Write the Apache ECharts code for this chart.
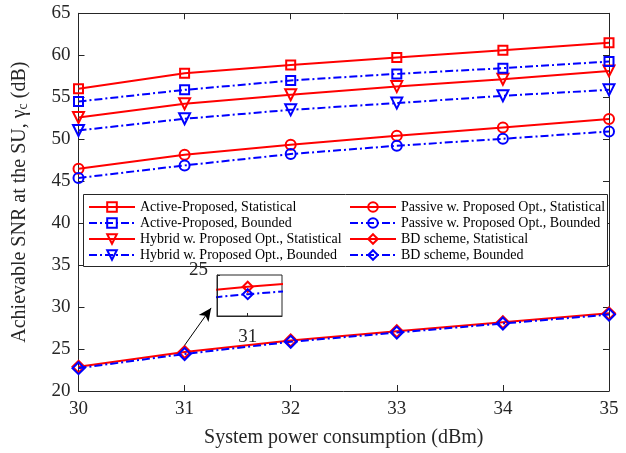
<!DOCTYPE html>
<html>
<head>
<meta charset="utf-8">
<script src="https://cdn.jsdelivr.net/npm/echarts@6/dist/echarts.min.js"></script>
<style>html,body{margin:0;padding:0;background:#fff;}#c{width:626px;height:453px;}</style>
</head>
<body>
<div id="c"></div>
<script>
// ---- data ----
const xValues = [30, 31, 32, 33, 34, 35];
const activeStat = [56.0, 57.87, 58.85, 59.72, 60.6, 61.5];
const activeBound = [54.49, 55.88, 56.99, 57.78, 58.46, 59.25];
const passiveStat = [46.49, 48.15, 49.34, 50.41, 51.4, 52.4];
const passiveBound = [45.38, 46.88, 48.23, 49.22, 50.05, 50.92];
const hybridStat = [52.59, 54.22, 55.29, 56.27, 57.15, 58.14];
const hybridBound = [51.04, 52.43, 53.5, 54.3, 55.17, 55.88];
const bdStat = [22.88, 24.64, 26.03, 27.13, 28.2, 29.25];
const bdBound = [22.72, 24.41, 25.86, 26.96, 28.04, 29.1];
const seriesNames = [
  'Active-Proposed, Statistical', 'Active-Proposed, Bounded',
  'Hybrid w. Proposed Opt., Statistical', 'Hybrid w. Proposed Opt., Bounded',
  'Passive w. Proposed Opt., Statistical', 'Passive w. Proposed Opt., Bounded',
  'BD scheme, Statistical', 'BD scheme, Bounded'
];
const xTicks = [30, 31, 32, 33, 34, 35];
const yTicks = [20, 25, 30, 35, 40, 45, 50, 55, 60, 65];
const insetXTick = [31];
const insetYTick = [25];
const arrowFrom = [31.0, 25.45];
const arrowTo = [31.25, 29.9];

// ---- styles ----
const FONT = '"Liberation Serif", "Times New Roman", serif';
const RED = '#FF0000', BLUE = '#0000FF', AX = '#262626';
const pair = a => a.map((v, i) => [xValues[i], v]);

function mk(name, data, color, solid, symbol, rot, size, extra) {
  return Object.assign({
    name: name, type: 'line', data: pair(data),
    symbol: symbol, symbolSize: size, symbolRotate: rot || 0,
    lineStyle: { color: color, width: 2, type: solid ? 'solid' : [8, 3, 2, 3] },
    itemStyle: { color: 'rgba(255,255,255,0)', borderColor: color, borderWidth: 2 },
    emphasis: { disabled: true }, animation: false, z: solid ? 3 : 4
  }, extra || {});
}

const series = [
  mk(seriesNames[0], activeStat, RED, true, 'rect', 0, 9),
  mk(seriesNames[1], activeBound, BLUE, false, 'rect', 0, 9),
  mk(seriesNames[2], hybridStat, RED, true, 'triangle', 180, 11),
  mk(seriesNames[3], hybridBound, BLUE, false, 'triangle', 180, 11),
  mk(seriesNames[4], passiveStat, RED, true, 'circle', 0, 10),
  mk(seriesNames[5], passiveBound, BLUE, false, 'circle', 0, 10),
  mk(seriesNames[6], bdStat, RED, true, 'diamond', 0, 12, {
    markLine: {
      silent: true, symbol: ['none', 'arrow'], symbolSize: [9, 13],
      lineStyle: { color: '#000', width: 1, type: 'solid' },
      label: { show: false },
      data: [[{ coord: arrowFrom }, { coord: arrowTo }]]
    }
  }),
  mk(seriesNames[7], bdBound, BLUE, false, 'diamond', 0, 12),
  mk('inset-stat', bdStat, RED, true, 'diamond', 0, 10, { xAxisIndex: 2, yAxisIndex: 2, clip: true, z: 20 }),
  mk('inset-bound', bdBound, BLUE, false, 'diamond', 0, 10, { xAxisIndex: 2, yAxisIndex: 2, clip: true, z: 21 })
];

const tickStyle = { inside: true, length: 6, lineStyle: { color: AX } };
const lineStyleAx = { lineStyle: { color: AX, width: 1 } };

const option = {
  backgroundColor: '#fff',
  animation: false,
  textStyle: { fontFamily: FONT },
  grid: [
    { left: 78.5, right: 17, top: 13.3, bottom: 61.5, show: false },
    { left: 217, top: 275, width: 65, height: 41, show: true, borderColor: AX, borderWidth: 1, backgroundColor: '#fff', z: 6 }
  ],
  xAxis: [
    { type: 'value', gridIndex: 0, min: 30, max: 35, interval: 1, position: 'bottom',
      axisLine: lineStyleAx, axisTick: tickStyle, splitLine: { show: false },
      axisLabel: { customValues: xTicks, color: AX, fontFamily: FONT, fontSize: 19, margin: 9 },
      name: 'System power consumption (dBm)', nameLocation: 'middle', nameGap: 37,
      nameTextStyle: { color: AX, fontFamily: FONT, fontSize: 20 } },
    { type: 'value', gridIndex: 0, min: 30, max: 35, interval: 1, position: 'top',
      axisLine: lineStyleAx, axisTick: tickStyle, axisLabel: { show: false }, splitLine: { show: false } },
    { type: 'value', gridIndex: 1, min: 30.948, max: 31.058, position: 'bottom', z: 22,
      axisLine: lineStyleAx,
      axisTick: { inside: true, length: 3, customValues: insetXTick, lineStyle: { color: AX } },
      axisLabel: { customValues: insetXTick, color: AX, fontFamily: FONT, fontSize: 19, margin: 12 },
      splitLine: { show: false } }
  ],
  yAxis: [
    { type: 'value', gridIndex: 0, min: 20, max: 65, interval: 5, position: 'left',
      axisLine: lineStyleAx, axisTick: tickStyle, splitLine: { show: false },
      axisLabel: { customValues: yTicks, color: AX, fontFamily: FONT, fontSize: 19, margin: 8 },
      name: 'Achievable SNR at the SU, γ{sub|c} (dB)', nameLocation: 'middle', nameGap: 48,
      nameTextStyle: { color: AX, fontFamily: FONT, fontSize: 20,
        rich: { sub: { fontFamily: FONT, fontSize: 14, color: AX, padding: [8, 0, 0, 0] } } } },
    { type: 'value', gridIndex: 0, min: 20, max: 65, interval: 5, position: 'right',
      axisLine: lineStyleAx, axisTick: tickStyle, axisLabel: { show: false }, splitLine: { show: false } },
    { type: 'value', gridIndex: 1, min: 23.74, max: 25, position: 'left', z: 22,
      axisLine: lineStyleAx,
      axisTick: { inside: true, length: 3, customValues: insetYTick, lineStyle: { color: AX } },
      axisLabel: { customValues: insetYTick, color: AX, fontFamily: FONT, fontSize: 19, margin: 9,
        verticalAlign: 'bottom', lineHeight: 10 },
      splitLine: { show: false } }
  ],
  legend: [
    { data: seriesNames.slice(0, 4), orient: 'vertical', left: 88, top: 200, padding: 0, itemWidth: 46, itemHeight: 12,
      itemGap: 2, z: 10, selectedMode: false,
      textStyle: { fontFamily: FONT, fontSize: 14, color: '#000', lineHeight: 14 } },
    { data: seriesNames.slice(4, 8), orient: 'vertical', left: 349, top: 200, padding: 0, itemWidth: 46, itemHeight: 12,
      itemGap: 2, z: 10, selectedMode: false,
      textStyle: { fontFamily: FONT, fontSize: 14, color: '#000', lineHeight: 14 } }
  ],
  graphic: [
    { type: 'rect', z: 5, left: 83, top: 194, shape: { width: 524, height: 72 },
      style: { fill: '#fff', stroke: AX, lineWidth: 1 } }
  ],
  series: series
};

const chart = echarts.init(document.getElementById('c'), null, { renderer: 'canvas' });
chart.setOption(option);
</script>
</body>
</html>
